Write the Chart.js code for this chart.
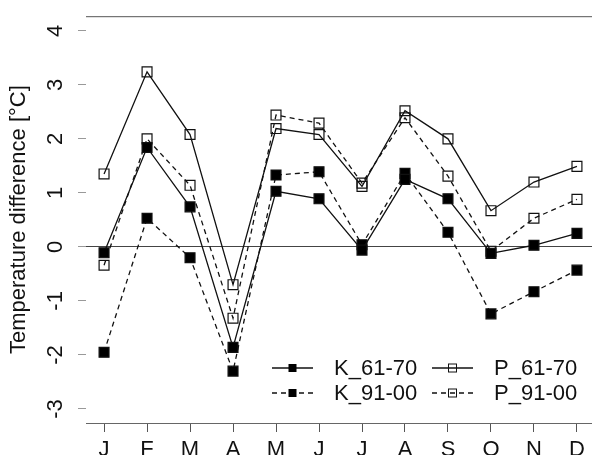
<!DOCTYPE html>
<html>
<head>
<meta charset="utf-8">
<script src="https://cdn.jsdelivr.net/npm/chart.js@4"></script>
<style>
  html, body { margin: 0; padding: 0; background: #fff; overflow: hidden; }
  #wrap { width: 592px; height: 455px; }
</style>
</head>
<body>
<div id="wrap"><canvas id="chart" width="592" height="455"></canvas></div>
<script>
// --- data ---
const months = ['J', 'F', 'M', 'A', 'M', 'J', 'J', 'A', 'S', 'O', 'N', 'D'];
const yTicks = [-3, -2, -1, 0, 1, 2, 3, 4];
const k6170 = [-0.11, 1.84, 0.74, -1.86, 1.03, 0.89, -0.06, 1.25, 0.89, -0.12, 0.03, 0.25];
const k9100 = [-1.95, 0.53, -0.20, -2.30, 1.33, 1.39, 0.04, 1.36, 0.27, -1.24, -0.83, -0.43];
const p6170 = [1.35, 3.24, 2.08, -0.70, 2.19, 2.08, 1.12, 2.52, 2.00, 0.67, 1.20, 1.49];
const p9100 = [-0.34, 2.00, 1.14, -1.32, 2.44, 2.29, 1.18, 2.39, 1.31, -0.08, 0.53, 0.88];

const FONT = '"Liberation Sans", Arial, Helvetica, sans-serif';
const toPts = arr => arr.map((v, i) => ({ x: i + 1, y: v }));

function series(label, data, filled, dashed) {
  return {
    label,
    data: toPts(data),
    borderColor: '#111',
    borderWidth: 1.3,
    borderDash: dashed ? [5, 4] : [],
    pointStyle: 'rect',
    pointRadius: 7,
    pointBorderWidth: 1.2,
    pointBorderColor: '#111',
    pointBackgroundColor: filled ? '#000' : 'rgba(0,0,0,0)',
    fill: false,
    tension: 0
  };
}

// top frame line, rotated y tick labels, two-column legend
const extras = {
  id: 'extras',
  afterDraw(chart) {
    const { ctx, chartArea: a, scales: { y } } = chart;
    ctx.save();
    ctx.strokeStyle = '#555';
    ctx.lineWidth = 1;
    ctx.setLineDash([]);
    ctx.beginPath();
    ctx.moveTo(a.left, a.top + 0.5);
    ctx.lineTo(a.right, a.top + 0.5);
    ctx.stroke();

    ctx.fillStyle = '#111';
    ctx.font = '22px ' + FONT;
    ctx.textAlign = 'center';
    ctx.textBaseline = 'middle';
    y.ticks.forEach(t => {
      const py = y.getPixelForValue(t.value);
      ctx.save();
      ctx.translate(a.left - 30, py);
      ctx.rotate(-Math.PI / 2);
      ctx.fillText(String(t.value), 0, 0);
      ctx.restore();
    });

    // legend
    const ds = chart.data.datasets;
    const order = [[0, 2], [1, 3]];
    const rowY = [a.bottom - 55, a.bottom - 30];
    const colX = [a.right - 320, a.right - 160];
    ctx.textAlign = 'left';
    order.forEach((row, r) => {
      row.forEach((di, c) => {
        const d = ds[di];
        const x0 = colX[c], yy = rowY[r];
        ctx.strokeStyle = '#111';
        ctx.lineWidth = 1.3;
        ctx.setLineDash(d.borderDash);
        ctx.beginPath();
        ctx.moveTo(x0, yy);
        ctx.lineTo(x0 + 41, yy);
        ctx.stroke();
        ctx.setLineDash([]);
        const mx = x0 + 20.5;
        if (d.pointBackgroundColor === '#000') {
          ctx.fillStyle = '#000';
          ctx.fillRect(mx - 4, yy - 4, 8, 8);
        } else {
          ctx.lineWidth = 1;
          ctx.strokeRect(mx - 4, yy - 4, 8, 8);
        }
        ctx.fillStyle = '#111';
        ctx.fillText(d.label, x0 + 62, yy + 1);
      });
    });
    ctx.restore();
  }
};

new Chart(document.getElementById('chart'), {
  type: 'line',
  data: {
    datasets: [
      series('K_61-70', k6170, true, false),
      series('K_91-00', k9100, true, true),
      series('P_61-70', p6170, false, false),
      series('P_91-00', p9100, false, true)
    ]
  },
  options: {
    responsive: false,
    animation: false,
    devicePixelRatio: 1,
    layout: { autoPadding: false, padding: { top: 13, right: 0, left: 0, bottom: 0 } },
    plugins: { legend: { display: false }, tooltip: { enabled: false } },
    scales: {
      x: {
        type: 'linear',
        min: 0.58,
        max: 12.35,
        afterBuildTicks: s => { s.ticks = months.map((m, i) => ({ value: i + 1 })); },
        afterFit: s => { s.height = 32; s.paddingLeft = 0; s.paddingRight = 0; },
        ticks: {
          callback: v => months[v - 1],
          color: '#111',
          font: { family: FONT, size: 22 },
          padding: 5,
          maxRotation: 0,
          autoSkip: false
        },
        grid: { drawOnChartArea: false, tickLength: 9, tickColor: '#555' },
        border: { display: true, color: '#666', width: 1 }
      },
      y: {
        min: -3.26,
        max: 4.27,
        afterBuildTicks: s => { s.ticks = yTicks.map(v => ({ value: v })); },
        afterFit: s => { s.width = 86; },
        ticks: { callback: () => '', font: { family: FONT, size: 22 } },
        grid: {
          drawOnChartArea: true,
          tickLength: 8,
          tickColor: '#999',
          color: c => (c.tick && c.tick.value === 0) ? '#444' : 'rgba(0,0,0,0)',
          lineWidth: 1
        },
        border: { display: false },
        title: {
          display: true,
          text: 'Temperature difference [°C]',
          color: '#111',
          font: { family: FONT, size: 22 },
          padding: { top: 6, bottom: 0 }
        }
      }
    }
  },
  plugins: [extras]
});
</script>
</body>
</html>
